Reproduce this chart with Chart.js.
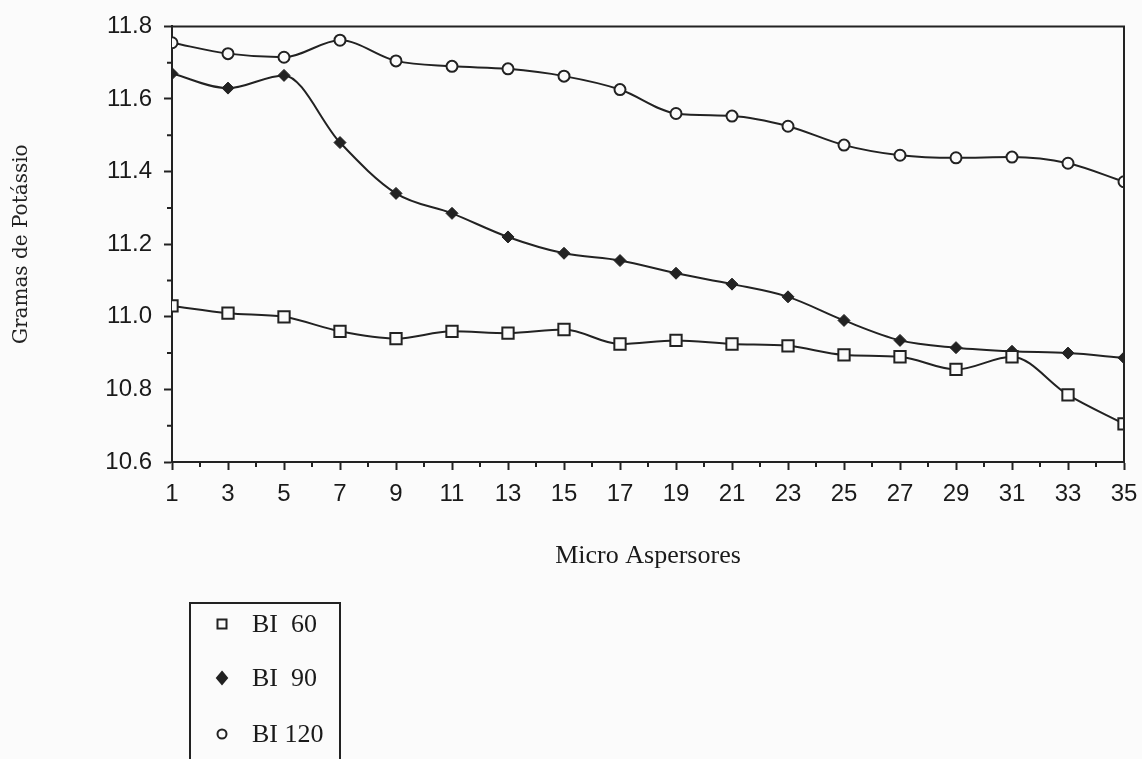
<!DOCTYPE html>
<html>
<head>
<meta charset="utf-8">
<script src="https://cdn.jsdelivr.net/npm/chart.js@4/dist/chart.umd.min.js"></script>
<style>
  html, body { margin: 0; background: #fbfbfb; }
  #wrap { width: 1142px; height: 759px; position: relative; }
</style>
</head>
<body>
<div id="wrap"><canvas id="potassioChart"></canvas></div>
<script>
// valores
var microAspersores = [1, 3, 5, 7, 9, 11, 13, 15, 17, 19, 21, 23, 25, 27, 29, 31, 33, 35];
var bi60 = [11.03, 11.01, 11.0, 10.96, 10.94, 10.96, 10.955, 10.965, 10.925, 10.935, 10.925, 10.92, 10.895, 10.89, 10.855, 10.89, 10.785, 10.705];
var bi90 = [11.67, 11.63, 11.665, 11.48, 11.34, 11.285, 11.22, 11.175, 11.155, 11.12, 11.09, 11.055, 10.99, 10.935, 10.915, 10.905, 10.9, 10.887];
var bi120 = [11.755, 11.725, 11.715, 11.762, 11.705, 11.69, 11.683, 11.663, 11.626, 11.56, 11.553, 11.525, 11.473, 11.445, 11.438, 11.44, 11.423, 11.372];
var seriesNames = ["BI  60", "BI  90", "BI 120"];
var yMinorTicks = [10.7, 10.9, 11.1, 11.3, 11.5, 11.7];
var xMinorTicks = [2, 4, 6, 8, 10, 12, 14, 16, 18, 20, 22, 24, 26, 28, 30, 32, 34];

var ink = "#222";
var paper = "#fbfbfb";

function pts(values) {
  return microAspersores.map(function (x, i) { return { x: x, y: values[i] }; });
}

// moldura superior/direita e marcas menores dos eixos
var framePlugin = {
  id: "frame",
  afterDraw: function (chart) {
    var ctx = chart.ctx, a = chart.chartArea;
    var xs = chart.scales.x, ys = chart.scales.y;
    ctx.save();
    ctx.strokeStyle = ink;
    ctx.lineWidth = 2;
    ctx.beginPath();
    ctx.moveTo(a.left, a.top);
    ctx.lineTo(a.right, a.top);
    ctx.lineTo(a.right, a.bottom);
    xMinorTicks.forEach(function (v) {
      var px = xs.getPixelForValue(v);
      ctx.moveTo(px, a.bottom);
      ctx.lineTo(px, a.bottom + 5);
    });
    yMinorTicks.forEach(function (v) {
      var py = ys.getPixelForValue(v);
      ctx.moveTo(a.left - 5, py);
      ctx.lineTo(a.left, py);
    });
    ctx.stroke();
    ctx.restore();
  }
};

var legendPlugin = {
  id: "boxLegend",
  afterDraw: function (chart) {
    var ctx = chart.ctx;
    ctx.save();
    ctx.strokeStyle = ink;
    ctx.lineWidth = 2;
    ctx.strokeRect(190, 603, 150, 170);
    var rows = [624, 678, 734];
    ctx.font = "26px 'Liberation Serif'";
    ctx.textBaseline = "middle";
    chart.data.datasets.forEach(function (ds, i) {
      var y = rows[i], x = 222;
      ctx.lineWidth = 2;
      ctx.strokeStyle = ink;
      ctx.fillStyle = ds.pointBackgroundColor;
      ctx.beginPath();
      if (ds.pointStyle === "rect") {
        ctx.rect(x - 4.5, y - 4.5, 9, 9);
      } else if (ds.pointStyle === "rectRot") {
        ctx.moveTo(x, y - 6); ctx.lineTo(x + 5, y); ctx.lineTo(x, y + 6); ctx.lineTo(x - 5, y); ctx.closePath();
      } else {
        ctx.arc(x, y, 4.5, 0, Math.PI * 2);
      }
      ctx.fill();
      ctx.stroke();
      ctx.fillStyle = "#1a1a1a";
      ctx.fillText(ds.label, 252, y + 1);
    });
    ctx.restore();
  }
};

var ctx = document.getElementById("potassioChart").getContext("2d");
var potassioChart = new Chart(ctx, {
  type: "line",
  data: {
    datasets: [
      {
        label: seriesNames[0],
        data: pts(bi60),
        borderColor: ink,
        borderWidth: 2,
        pointStyle: "rect",
        pointRadius: 8,
        pointBorderWidth: 2,
        pointBorderColor: ink,
        pointBackgroundColor: paper,
        cubicInterpolationMode: "monotone"
      },
      {
        label: seriesNames[1],
        data: pts(bi90),
        borderColor: ink,
        borderWidth: 2,
        pointStyle: "rectRot",
        pointRadius: 6,
        pointBorderWidth: 1,
        pointBorderColor: ink,
        pointBackgroundColor: ink,
        cubicInterpolationMode: "monotone"
      },
      {
        label: seriesNames[2],
        data: pts(bi120),
        borderColor: ink,
        borderWidth: 2,
        pointStyle: "circle",
        pointRadius: 5.5,
        pointBorderWidth: 2,
        pointBorderColor: ink,
        pointBackgroundColor: paper,
        cubicInterpolationMode: "monotone"
      }
    ]
  },
  options: {
    responsive: true,
    maintainAspectRatio: false,
    animation: false,
    layout: { padding: { top: 25, right: 18, bottom: 0, left: 0 } },
    plugins: {
      legend: { display: false },
      tooltip: { enabled: false }
    },
    scales: {
      x: {
        type: "linear",
        min: 1,
        max: 35,
        border: { color: ink, width: 2 },
        grid: { drawOnChartArea: false, tickLength: 8, tickColor: ink, tickWidth: 2 },
        ticks: {
          stepSize: 2,
          autoSkip: false,
          maxRotation: 0,
          padding: 10,
          color: "#1a1a1a",
          font: { family: "'Liberation Sans'", size: 24 }
        },
        title: {
          display: true,
          text: "Micro Aspersores",
          color: "#1a1a1a",
          font: { family: "'Liberation Serif'", size: 26 },
          padding: { top: 0, bottom: 187 }
        },
        afterFit: function (scale) {
          scale.height = 297;
          scale.paddingRight = 0;
        }
      },
      y: {
        min: 10.6,
        max: 11.8,
        border: { color: ink, width: 2 },
        grid: { drawOnChartArea: false, tickLength: 8, tickColor: ink, tickWidth: 2 },
        ticks: {
          stepSize: 0.2,
          padding: 12,
          color: "#1a1a1a",
          font: { family: "'Liberation Sans'", size: 24 },
          callback: function (v) { return v.toFixed(1); }
        },
        title: {
          display: true,
          text: "Gramas de Potássio",
          color: "#222",
          font: { family: "'DejaVu Serif'", size: 20 },
          padding: { top: 10, bottom: 0 }
        },
        afterFit: function (scale) { scale.width = 172; }
      }
    }
  },
  plugins: [framePlugin, legendPlugin]
});
</script>
</body>
</html>
